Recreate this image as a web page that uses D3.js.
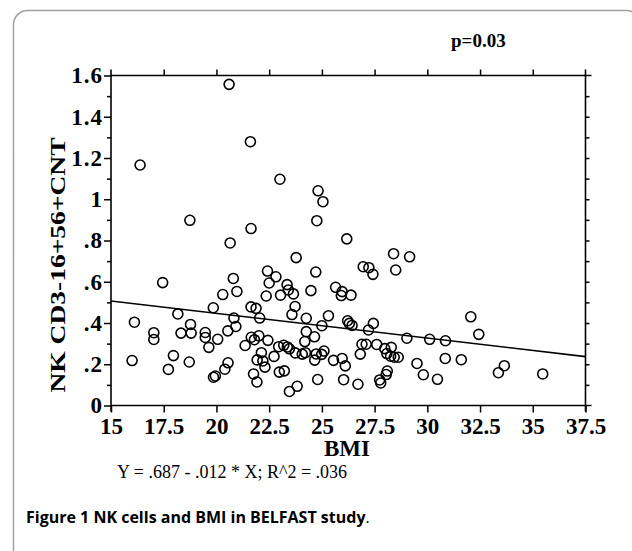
<!DOCTYPE html>
<html><head><meta charset="utf-8">
<script src="https://cdn.jsdelivr.net/npm/d3@7/dist/d3.min.js"></script>
<style>body{margin:0;background:#fff}svg{display:block}</style>
</head><body><svg id="c" width="632" height="551"></svg>
<script>
const bmi = [20.60,21.61,16.38,23.01,24.82,25.05,18.74,21.64,24.76,26.18,20.65,23.78,28.40,29.16,26.96,27.23,27.42,28.50,17.45,22.42,22.82,24.71,20.80,22.50,23.35,25.65,20.30,20.97,22.36,23.04,23.41,23.65,24.48,25.96,25.92,26.38,19.85,21.64,21.88,23.73,18.17,20.83,22.05,23.58,24.26,25.31,26.22,26.30,26.43,27.44,27.21,32.06,32.44,29.03,30.11,30.86,16.11,18.77,20.92,25.00,17.03,17.03,18.32,18.80,19.47,20.54,24.26,19.47,20.06,21.65,21.80,22.01,22.44,24.19,24.65,19.64,21.36,22.95,23.19,23.36,23.46,22.13,23.74,24.07,24.22,24.73,25.10,24.99,26.90,27.10,27.60,27.98,28.29,28.08,28.26,28.43,28.62,26.82,25.96,26.11,30.85,31.61,29.51,29.81,30.48,28.10,28.05,27.74,27.79,26.03,26.71,33.37,33.65,35.47,16.00,17.96,18.71,21.93,22.20,22.73,24.66,25.55,17.72,20.55,20.40,22.30,19.86,19.95,21.76,21.92,22.98,23.22,24.80,23.46,23.83];
const nk = [1.557,1.279,1.166,1.097,1.041,0.988,0.898,0.858,0.896,0.808,0.788,0.717,0.736,0.721,0.673,0.668,0.636,0.657,0.596,0.652,0.624,0.647,0.616,0.594,0.586,0.573,0.538,0.553,0.531,0.535,0.560,0.541,0.557,0.552,0.533,0.535,0.474,0.478,0.471,0.480,0.444,0.424,0.424,0.441,0.423,0.435,0.411,0.398,0.388,0.398,0.366,0.430,0.345,0.326,0.321,0.314,0.404,0.393,0.383,0.387,0.353,0.320,0.351,0.351,0.354,0.362,0.358,0.330,0.321,0.331,0.319,0.338,0.316,0.310,0.333,0.282,0.291,0.285,0.292,0.284,0.275,0.256,0.255,0.249,0.256,0.250,0.264,0.248,0.297,0.297,0.296,0.276,0.282,0.252,0.239,0.234,0.234,0.249,0.228,0.192,0.228,0.222,0.204,0.149,0.127,0.167,0.150,0.124,0.109,0.125,0.103,0.159,0.193,0.153,0.218,0.242,0.211,0.221,0.216,0.238,0.220,0.219,0.175,0.207,0.176,0.186,0.137,0.143,0.153,0.114,0.162,0.168,0.126,0.068,0.093];
const xTicks = [15,17.5,20,22.5,25,27.5,30,32.5,35,37.5];
const yTicks = [0,0.2,0.4,0.6,0.8,1,1.2,1.4,1.6];
const yTickLabels = ["0",".2",".4",".6",".8","1","1.2","1.4","1.6"];
const yMinor = [0.1,0.3,0.5,0.7,0.9,1.1,1.3,1.5];
const intercept = 0.687, slope = -0.012;

const svg = d3.select("#c");
svg.append("rect").attr("x",0).attr("y",0).attr("width",632).attr("height",551).attr("fill","#fff");
svg.append("rect").attr("x",13.5).attr("y",10.5).attr("width",627).attr("height",600).attr("rx",14)
  .attr("fill","none").attr("stroke","#a0a0a0").attr("stroke-width",1.5);

const x = d3.scaleLinear().domain([15,37.5]).range([111,585.5]);
const y = d3.scaleLinear().domain([0,1.6]).range([405.5,75.5]);
const serif = "'Liberation Serif','Times New Roman',serif";

const ext = 6;
const frame = svg.append("g").attr("stroke","#000").attr("stroke-width",1.6);
frame.append("line").attr("x1",x(15)).attr("x2",x(37.5)+ext).attr("y1",y(0)).attr("y2",y(0));
frame.append("line").attr("x1",x(15)).attr("x2",x(37.5)+ext).attr("y1",y(1.6)).attr("y2",y(1.6));
frame.append("line").attr("x1",x(15)).attr("x2",x(15)).attr("y1",y(0)+ext).attr("y2",y(1.6)-ext);
frame.append("line").attr("x1",x(37.5)).attr("x2",x(37.5)).attr("y1",y(0)+ext).attr("y2",y(1.6)-ext);

function styleAxis(g){ g.select(".domain").remove(); g.selectAll(".tick line").attr("stroke","#000").attr("stroke-width",1.5); }

svg.append("g").attr("transform",`translate(0,${y(0)})`)
  .call(d3.axisBottom(x).tickValues(xTicks).tickSize(7).tickPadding(5).tickFormat(d=>String(d)))
  .call(styleAxis)
  .call(g=>g.selectAll("text").attr("font-family",serif).attr("font-weight","bold").attr("font-size",23).attr("fill","#000"));
svg.append("g").attr("transform",`translate(0,${y(1.6)})`)
  .call(d3.axisTop(x).tickValues(xTicks.slice(1,-1)).tickSize(6).tickFormat(""))
  .call(styleAxis);
svg.append("g").attr("transform",`translate(${x(15)},0)`)
  .call(d3.axisLeft(y).tickValues(yTicks).tickSize(7).tickFormat((d,i)=>yTickLabels[i]))
  .call(styleAxis)
  .call(g=>g.selectAll("text").attr("x",-8).attr("font-family",serif).attr("font-weight","bold").attr("font-size",23)
    .attr("letter-spacing",1).attr("fill","#000").attr("dy","0.32em"));
svg.append("g").attr("transform",`translate(${x(15)},0)`)
  .call(d3.axisLeft(y).tickValues(yMinor).tickSize(4).tickFormat(""))
  .call(styleAxis);
svg.append("g").attr("transform",`translate(${x(37.5)},0)`)
  .call(d3.axisRight(y).tickValues(yMinor.concat(yTicks.slice(1,-1))).tickSize(4).tickFormat(""))
  .call(styleAxis);

svg.append("line").attr("x1",x(15)).attr("x2",x(37.5))
  .attr("y1",y(intercept+slope*15)).attr("y2",y(intercept+slope*37.5))
  .attr("stroke","#000").attr("stroke-width",1.6);

svg.append("g").selectAll("circle").data(bmi.map((b,i)=>[b,nk[i]])).join("circle")
  .attr("cx",d=>x(d[0])).attr("cy",d=>y(d[1])).attr("r",5)
  .attr("fill","none").attr("stroke","#000").attr("stroke-width",1.6);

svg.append("text").attr("x",451).attr("y",47).attr("font-family",serif).attr("font-weight","bold")
  .attr("font-size",19).text("p=0.03");
svg.append("text").attr("transform","translate(65,265) rotate(-90)").attr("text-anchor","middle")
  .attr("font-family",serif).attr("font-weight","bold").attr("font-size",21)
  .attr("textLength",255).attr("lengthAdjust","spacingAndGlyphs").text("NK CD3-16+56+CNT");
svg.append("text").attr("x",347).attr("y",456).attr("text-anchor","middle").attr("font-family",serif)
  .attr("font-weight","bold").attr("font-size",23).text("BMI");
svg.append("text").attr("x",117).attr("y",478).attr("font-family",serif).attr("font-size",18)
  .text("Y = .687 - .012 * X; R^2 = .036");
const cap = svg.append("text").attr("x",26).attr("y",523).attr("font-family","'Open Sans',sans-serif").attr("font-size",16);
cap.append("tspan").attr("font-weight","bold").text("Figure 1 NK cells and BMI in BELFAST study");
cap.append("tspan").text(".");
</script></body></html>
